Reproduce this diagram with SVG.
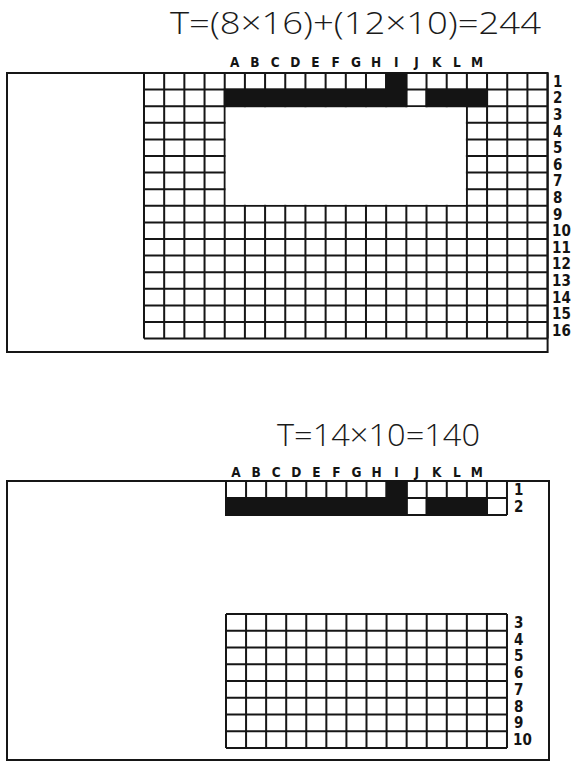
<svg xmlns="http://www.w3.org/2000/svg" width="571" height="762" viewBox="0 0 571 762">
<style>
.bg{fill:#fff}
.frame{fill:none;stroke:#161616;stroke-width:2}
.grid{fill:none;stroke:#161616;stroke-width:2}
.blk{fill:#141414}
.hole{fill:#fff}
.title{font-family:"Open Sans","Liberation Sans",sans-serif;font-weight:300;font-size:32px;fill:#1a1a1a}
.lab{font-family:"DejaVu Sans Condensed","DejaVu Sans",sans-serif;font-stretch:condensed;font-weight:bold;font-size:13.5px;fill:#141414;text-anchor:middle}
.num{font-family:"DejaVu Sans Condensed","DejaVu Sans",sans-serif;font-stretch:condensed;font-weight:bold;font-size:15px;fill:#141414}
</style>
<rect class="bg" x="0" y="0" width="571" height="762"/>

<g id="top-diagram">
<text class="title" x="170" y="34" textLength="371" lengthAdjust="spacingAndGlyphs">T=(8×16)+(12×10)=244</text>
<rect class="frame" x="7" y="73" width="540.6" height="279"/>
<path class="grid" d="M144 73V338.6M164.18 73V338.6M184.36 73V338.6M204.54 73V338.6M224.72 73V338.6M244.9 73V338.6M265.08 73V338.6M285.26 73V338.6M305.44 73V338.6M325.62 73V338.6M345.8 73V338.6M365.98 73V338.6M386.16 73V338.6M406.34 73V338.6M426.52 73V338.6M446.7 73V338.6M466.88 73V338.6M487.06 73V338.6M507.24 73V338.6M527.42 73V338.6M547.6 73V338.6
M144 73H547.6M144 89.6H547.6M144 106.2H547.6M144 122.8H547.6M144 139.4H547.6M144 156H547.6M144 172.6H547.6M144 189.2H547.6M144 205.8H547.6M144 222.4H547.6M144 239H547.6M144 255.6H547.6M144 272.2H547.6M144 288.8H547.6M144 305.4H547.6M144 322H547.6M144 338.6H547.6"/>
<rect class="hole" x="225.72" y="107.2" width="240.16" height="97.6"/>
<rect class="blk" x="385.16" y="72" width="22.18" height="18.6"/>
<rect class="blk" x="223.72" y="88.6" width="183.62" height="18.6"/>
<rect class="blk" x="425.52" y="88.6" width="62.54" height="18.6"/>
<g id="top-letters">
<text class="lab" x="234.8" y="67">A</text><text class="lab" x="255" y="67">B</text><text class="lab" x="275.2" y="67">C</text><text class="lab" x="295.4" y="67">D</text><text class="lab" x="315.5" y="67">E</text><text class="lab" x="335.7" y="67">F</text><text class="lab" x="355.9" y="67">G</text><text class="lab" x="376.1" y="67">H</text><text class="lab" x="396.3" y="67">I</text><text class="lab" x="416.4" y="67">J</text><text class="lab" x="436.6" y="67">K</text><text class="lab" x="456.8" y="67">L</text><text class="lab" x="477" y="67">M</text>
</g>
<g id="top-numbers">
<text class="num" x="553" y="86.8">1</text><text class="num" x="553" y="103.4">2</text><text class="num" x="553" y="120">3</text><text class="num" x="553" y="136.6">4</text><text class="num" x="553" y="153.2">5</text><text class="num" x="553" y="169.8">6</text><text class="num" x="553" y="186.4">7</text><text class="num" x="553" y="203">8</text><text class="num" x="553" y="219.6">9</text><text class="num" x="552" y="236.2">10</text><text class="num" x="552" y="252.8">11</text><text class="num" x="552" y="269.4">12</text><text class="num" x="552" y="286">13</text><text class="num" x="552" y="302.6">14</text><text class="num" x="552" y="319.2">15</text><text class="num" x="552" y="335.8">16</text>
</g>
</g>

<g id="bottom-diagram">
<text class="title" x="277" y="446" textLength="203" lengthAdjust="spacingAndGlyphs">T=14×10=140</text>
<rect class="frame" x="7" y="481" width="542" height="279"/>
<path class="grid" d="M226 481V515M246.07 481V515M266.14 481V515M286.21 481V515M306.28 481V515M326.35 481V515M346.42 481V515M366.49 481V515M386.56 481V515M406.63 481V515M426.7 481V515M446.77 481V515M466.84 481V515M486.91 481V515M506.98 481V515
M226 481H506.98M226 498H506.98M226 515H506.98"/>
<rect class="blk" x="385.56" y="480" width="22.07" height="19"/>
<rect class="blk" x="225" y="497" width="182.63" height="19"/>
<rect class="blk" x="425.7" y="497" width="62.21" height="19"/>
<path class="grid" d="M226 614V748M246.07 614V748M266.14 614V748M286.21 614V748M306.28 614V748M326.35 614V748M346.42 614V748M366.49 614V748M386.56 614V748M406.63 614V748M426.7 614V748M446.77 614V748M466.84 614V748M486.91 614V748M506.98 614V748
M226 614H506.98M226 630.75H506.98M226 647.5H506.98M226 664.25H506.98M226 681H506.98M226 697.75H506.98M226 714.5H506.98M226 731.25H506.98M226 748H506.98"/>
<g id="bottom-letters">
<text class="lab" x="236" y="477">A</text><text class="lab" x="256.1" y="477">B</text><text class="lab" x="276.2" y="477">C</text><text class="lab" x="296.2" y="477">D</text><text class="lab" x="316.3" y="477">E</text><text class="lab" x="336.4" y="477">F</text><text class="lab" x="356.5" y="477">G</text><text class="lab" x="376.5" y="477">H</text><text class="lab" x="396.6" y="477">I</text><text class="lab" x="416.7" y="477">J</text><text class="lab" x="436.7" y="477">K</text><text class="lab" x="456.8" y="477">L</text><text class="lab" x="476.9" y="477">M</text>
</g>
<g id="bottom-numbers">
<text class="num" x="514" y="495">1</text><text class="num" x="514" y="512">2</text><text class="num" x="514" y="627.9">3</text><text class="num" x="514" y="644.6">4</text><text class="num" x="514" y="661.4">5</text><text class="num" x="514" y="678.1">6</text><text class="num" x="514" y="694.9">7</text><text class="num" x="514" y="711.6">8</text><text class="num" x="514" y="728.4">9</text><text class="num" x="513" y="745.1">10</text>
</g>
</g>
</svg>
